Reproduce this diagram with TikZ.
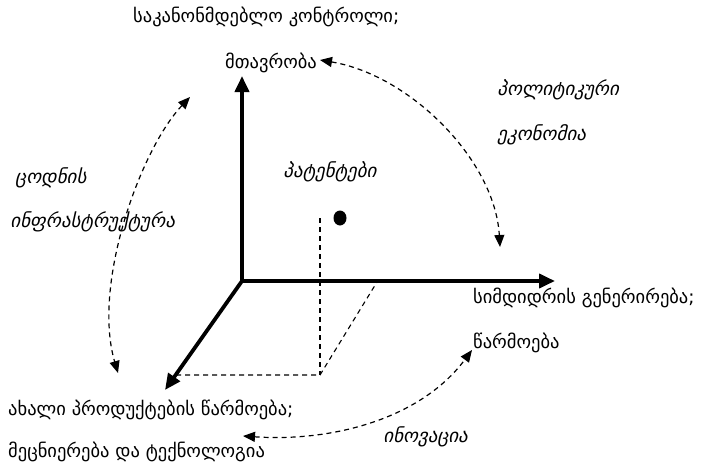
\documentclass[tikz,border=0pt]{standalone}
\usepackage{fontspec}
\setmainfont{DejaVu Sans}
\newfontfamily\geoit[FakeSlant=0.22]{DejaVu Sans}
\usetikzlibrary{arrows.meta,shapes.geometric}
\begin{document}
\begin{tikzpicture}[x=1pt,y=-1pt,
  lbl/.style={anchor=west,inner sep=0pt,font=\fontsize{18.5}{22}\selectfont},
  ilbl/.style={anchor=west,inner sep=0pt,font=\geoit\fontsize{19}{22}\selectfont},
  axis/.style={line width=3.8pt,-{Triangle[length=16pt,width=14pt]}},
  guide/.style={line width=1.1pt,dash pattern=on 5pt off 4pt},
  link/.style={line width=1.2pt,dash pattern=on 5pt off 4pt,{Triangle[length=12pt,width=10pt]}-{Triangle[length=12pt,width=10pt]}}]
\useasboundingbox (0,0) rectangle (710,471);
% labels
\node[lbl] (title) at (133,17) {საკანონმდებლო კონტროლი;};
\node[lbl] (gov) at (225,63) {მთავრობა};
\node[ilbl] (pol) at (497,90) {პოლიტიკური};
\node[ilbl] (eco) at (497,135) {ეკონომია};
\node[ilbl] (know) at (15,178) {ცოდნის};
\node[ilbl] (infra) at (10,222) {ინფრასტრუქტურა};
\node[ilbl] (pat) at (283,172) {პატენტები};
\node[lbl] (wealth) at (473,298) {სიმდიდრის გენერირება;};
\node[lbl] (prod) at (473,343) {წარმოება};
\node[lbl] (newp) at (8,410) {ახალი პროდუქტების წარმოება;};
\node[lbl] (sci) at (8,452) {მეცნიერება და ტექნოლოგია};
\node[ilbl] (inno) at (383,437) {ინოვაცია};
% axes
\coordinate (o) at (242,281);
\coordinate (ytip) at (242,76);
\coordinate (xtip) at (555,281);
\coordinate (ztip) at (165,390);
\draw[axis] (o) -- (ytip);
\draw[axis] (o) -- (xtip);
\draw[axis] (o) -- (ztip);
% point and projections
\node[ellipse,fill=black,minimum width=13pt,minimum height=15pt,inner sep=0pt] (dot) at (340,218) {};
\coordinate (vtop) at (320,218);
\coordinate (base) at (320,375);
\coordinate (zpt) at (176,375);
\coordinate (xpt) at (377,282);
\draw[guide] (vtop) -- (base);
\draw[guide] (zpt) -- (base) -- (xpt);
% curved links
\coordinate (a1) at (320,60);
\coordinate (a2) at (500,247);
\draw[link] (a1) .. controls (410,75) and (495,160) .. (a2);
\coordinate (b1) at (190,97);
\coordinate (b2) at (118,373);
\draw[link] (b1) .. controls (140,150) and (92,285) .. (b2);
\coordinate (c1) at (243,436);
\coordinate (c2) at (472,350);
\draw[link] (c1) .. controls (330,442) and (420,420) .. (c2);
\end{tikzpicture}
\end{document}
